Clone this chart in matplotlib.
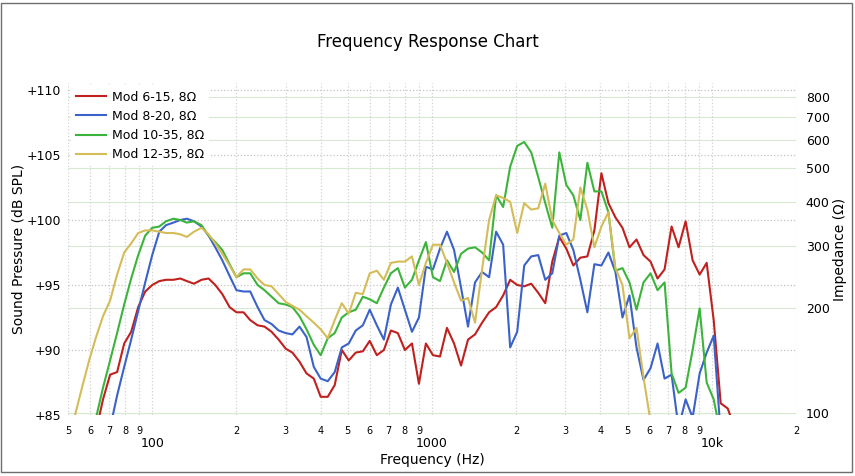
import numpy as np
import matplotlib.pyplot as plt
from matplotlib.ticker import FixedLocator, FixedFormatter, NullLocator
from matplotlib.patches import Rectangle

# 1/12-octave frequency points (Hz), starting at 50 Hz
freqs = [50.0, 53.0, 56.1, 59.5, 63.0, 66.7, 70.7, 74.9, 79.4, 84.1, 89.1, 94.4,
         100, 106, 112, 119, 126, 133, 141, 150, 159, 168, 178, 189,
         200, 212, 224, 238, 252, 267, 283, 300, 317, 336, 356, 378,
         400, 424, 449, 476, 504, 534, 566, 599, 635, 673, 713, 755,
         800, 848, 898, 951, 1008, 1068, 1131, 1199, 1270, 1345, 1425, 1510,
         1600, 1695, 1796, 1903, 2016, 2136, 2263, 2397, 2540, 2691, 2851, 3020,
         3200, 3390, 3592, 3805, 4032, 4271, 4525, 4795, 5080, 5382, 5702, 6041,
         6400, 6780, 7183, 7610, 8063, 8542, 9050, 9588, 10159, 10763, 11403, 12081]

# Mod 6-15 (starts at index 4)
red_start = 4
red_db = [83.8, 86.2, 88.1, 88.3, 90.5, 91.4, 93.3, 94.5, 95.0, 95.3, 95.4, 95.4,
          95.5, 95.3, 95.1, 95.4, 95.5, 95.0, 94.3, 93.3, 92.9, 92.9, 92.3, 91.9,
          91.8, 91.4, 90.8, 90.1, 89.8, 89.1, 88.2, 87.8, 86.4, 86.4, 87.3, 90.0,
          89.2, 89.8, 89.9, 90.7, 89.6, 90.0, 91.5, 91.3, 90.0, 90.5, 87.4, 90.5,
          89.6, 89.5, 91.7, 90.5, 88.8, 90.8, 91.2, 92.1, 92.9, 93.3, 94.2, 95.4,
          95.0, 94.9, 95.1, 94.4, 93.6, 96.8, 98.7, 97.8, 96.5, 97.1, 97.2, 99.2,
          103.6, 101.3, 100.2, 99.4, 97.9, 98.5, 97.3, 96.8, 95.5, 96.2, 99.5, 97.9,
          99.9, 96.9, 95.8, 96.7, 92.3, 85.9, 85.5, 84.0]

# Mod 8-20 (starts at index 6)
blue_start = 6
blue_db = [84.0, 86.5, 88.7, 90.8, 93.0, 95.2, 97.3, 99.1, 99.6, 99.8, 100.0, 100.1,
           99.9, 99.5, 98.8, 97.9, 96.9, 95.7, 94.6, 94.5, 94.5, 93.3, 92.3, 92.0,
           91.5, 91.3, 91.2, 91.8, 91.0, 88.7, 87.8, 87.6, 88.3, 90.2, 90.5, 91.5,
           91.9, 93.1, 91.9, 90.8, 93.5, 94.8, 93.1, 91.4, 92.5, 96.4, 96.2, 97.8,
           99.1, 97.7, 94.8, 91.8, 95.2, 96.0, 95.6, 99.1, 98.1, 90.2, 91.4, 96.5,
           97.2, 97.3, 95.4, 95.9, 98.8, 99.0, 97.7, 95.4, 92.9, 96.6, 96.5, 97.5,
           96.0, 92.5, 94.2, 90.2, 87.7, 88.6, 90.5, 87.8, 88.1, 84.0, 86.2, 84.8,
           88.2, 89.8, 91.1, 83.5]

# Mod 10-35 (starts at index 3)
green_start = 3
green_db = [82.9, 84.8, 87.1, 89.2, 91.3, 93.5, 95.5, 97.3, 98.8, 99.4, 99.5, 99.9,
            100.1, 100.0, 99.8, 99.9, 99.6, 98.8, 98.3, 97.7, 96.6, 95.6, 95.9, 95.9,
            95.0, 94.6, 94.1, 93.6, 93.5, 93.3, 92.6, 91.6, 90.4, 89.6, 90.9, 91.3,
            92.5, 92.9, 93.1, 94.1, 93.9, 93.6, 94.8, 95.9, 96.3, 94.8, 95.4, 96.9,
            98.3, 95.6, 95.3, 96.9, 96.0, 97.4, 97.8, 97.9, 97.5, 96.9, 101.9, 101.0,
            104.1, 105.7, 106.0, 105.2, 103.3, 101.3, 99.4, 105.2, 102.7, 101.9, 100.0, 104.4,
            102.2, 102.2, 100.6, 96.1, 96.3, 95.2, 93.1, 95.2, 95.9, 94.6, 95.2, 88.2,
            86.7, 87.1, 90.0, 93.2, 87.5, 86.2, 83.5]

# Mod 12-35 (starts at index 0)
yellow_start = 0
yellow_db = [82.9, 85.0, 87.1, 89.2, 91.0, 92.6, 93.8, 95.8, 97.5, 98.2, 99.0, 99.2,
             99.2, 99.1, 99.0, 99.0, 98.9, 98.7, 99.1, 99.4, 98.9, 98.2, 97.4, 96.5,
             95.6, 96.2, 96.2, 95.5, 95.0, 94.9, 94.3, 93.7, 93.4, 93.1, 92.6, 92.1,
             91.6, 90.9, 92.3, 93.6, 92.8, 94.4, 94.3, 95.9, 96.1, 95.4, 96.7, 96.8,
             96.8, 97.2, 95.0, 96.7, 98.1, 98.1, 96.7, 95.2, 93.8, 94.0, 92.1, 96.2,
             100.0, 101.9, 101.7, 101.4, 99.0, 101.3, 100.8, 100.9, 102.8, 100.0, 99.0, 98.1,
             98.5, 102.5, 100.8, 97.9, 99.5, 100.6, 96.3, 95.0, 90.9, 91.7, 87.9, 84.5]

series = [
    ('Mod 6-15, 8Ω', red_start, red_db, '#c0201e'),
    ('Mod 8-20, 8Ω', blue_start, blue_db, '#3b62c8'),
    ('Mod 10-35, 8Ω', green_start, green_db, '#3cb43c'),
    ('Mod 12-35, 8Ω', yellow_start, yellow_db, '#d4bc58'),
]

spl_ticks = [85, 90, 95, 100, 105, 110]
imp_ticks = [100, 200, 300, 400, 500, 600, 700, 800]
major_x = [100, 1000, 10000]
major_x_labels = ['100', '1000', '10k']
minor_x = [50, 60, 70, 80, 90, 200, 300, 400, 500, 600, 700, 800, 900,
           2000, 3000, 4000, 5000, 6000, 7000, 8000, 9000, 20000]
minor_x_labels = ['5', '6', '7', '8', '9', '2', '3', '4', '5', '6', '7', '8', '9',
                  '2', '3', '4', '5', '6', '7', '8', '9', '2']

W, H = 855, 476
fig = plt.figure(figsize=(W / 100, H / 100), dpi=100)
fig.patch.set_facecolor('white')

left, right, top, bottom = 68, 796, 83, 415
ax2 = fig.add_axes([left / W, 1 - bottom / H, (right - left) / W, (bottom - top) / H])
ax = fig.add_axes(ax2.get_position())

# impedance axis (right, only grid + labels)
ax2.set_xscale('log')
ax2.set_yscale('log')
ax2.set_xlim(50, 20000)
ax2.set_ylim(98.9, 875)
ax2.yaxis.tick_right()
ax2.yaxis.set_label_position('right')
ax2.yaxis.set_major_locator(FixedLocator(imp_ticks))
ax2.yaxis.set_major_formatter(FixedFormatter([str(t) for t in imp_ticks]))
ax2.yaxis.set_minor_locator(NullLocator())
ax2.xaxis.set_major_locator(NullLocator())
ax2.xaxis.set_minor_locator(NullLocator())
ax2.tick_params(axis='y', length=0, pad=7, labelsize=9)
ax2.grid(axis='y', color='#d6ead2', linestyle='-', linewidth=0.8)
ax2.set_ylabel('Impedance (Ω)', fontsize=10, labelpad=2)
for s in ax2.spines.values():
    s.set_visible(False)

# sound pressure axis
ax.set_zorder(ax2.get_zorder() + 1)
ax.patch.set_visible(False)
ax.set_xscale('log')
ax.set_xlim(50, 20000)
ax.set_ylim(85, 110 + 7 / 13)
ax.yaxis.set_major_locator(FixedLocator(spl_ticks))
ax.yaxis.set_major_formatter(FixedFormatter(['+%d' % t for t in spl_ticks]))
ax.yaxis.set_minor_locator(NullLocator())
ax.xaxis.set_major_locator(FixedLocator(major_x))
ax.xaxis.set_major_formatter(FixedFormatter(major_x_labels))
ax.xaxis.set_minor_locator(FixedLocator(minor_x))
ax.xaxis.set_minor_formatter(FixedFormatter(minor_x_labels))
ax.tick_params(axis='y', length=0, pad=5, labelsize=9)
ax.tick_params(axis='x', which='major', length=0, pad=16, labelsize=9)
ax.tick_params(axis='x', which='minor', length=0, pad=8, labelsize=7)
ax.grid(axis='y', color='#c4c4c4', linestyle=':', linewidth=0.9)
ax.grid(axis='x', which='both', color='#d2d2d2', linestyle=':', linewidth=0.9)
ax.set_axisbelow(True)
for s in ax.spines.values():
    s.set_visible(False)

for name, start, vals, color in series:
    ax.plot(freqs[start:start + len(vals)], vals, color=color, lw=1.5, label=name)

ax.set_xlabel('Frequency (Hz)', fontsize=10, labelpad=2)
ax.set_ylabel('Sound Pressure (dB SPL)', fontsize=10, labelpad=1)

leg = ax.legend(loc='upper left', bbox_to_anchor=(0, 1), fontsize=9, frameon=True,
                fancybox=False, borderaxespad=0.2, borderpad=0.4, handlelength=2.4,
                handletextpad=0.5, labelspacing=0.5)
leg.get_frame().set_facecolor('white')
leg.get_frame().set_edgecolor('none')
leg.get_frame().set_alpha(1)

fig.text(0.5, 1 - 42 / H, 'Frequency Response Chart', ha='center', va='center', fontsize=12)

fig.add_artist(Rectangle((1 / W, 4 / H), 851 / W, 469 / H, transform=fig.transFigure,
                         fill=False, edgecolor='#6e6e6e', linewidth=1))

fig.savefig('out.png', dpi=100)
